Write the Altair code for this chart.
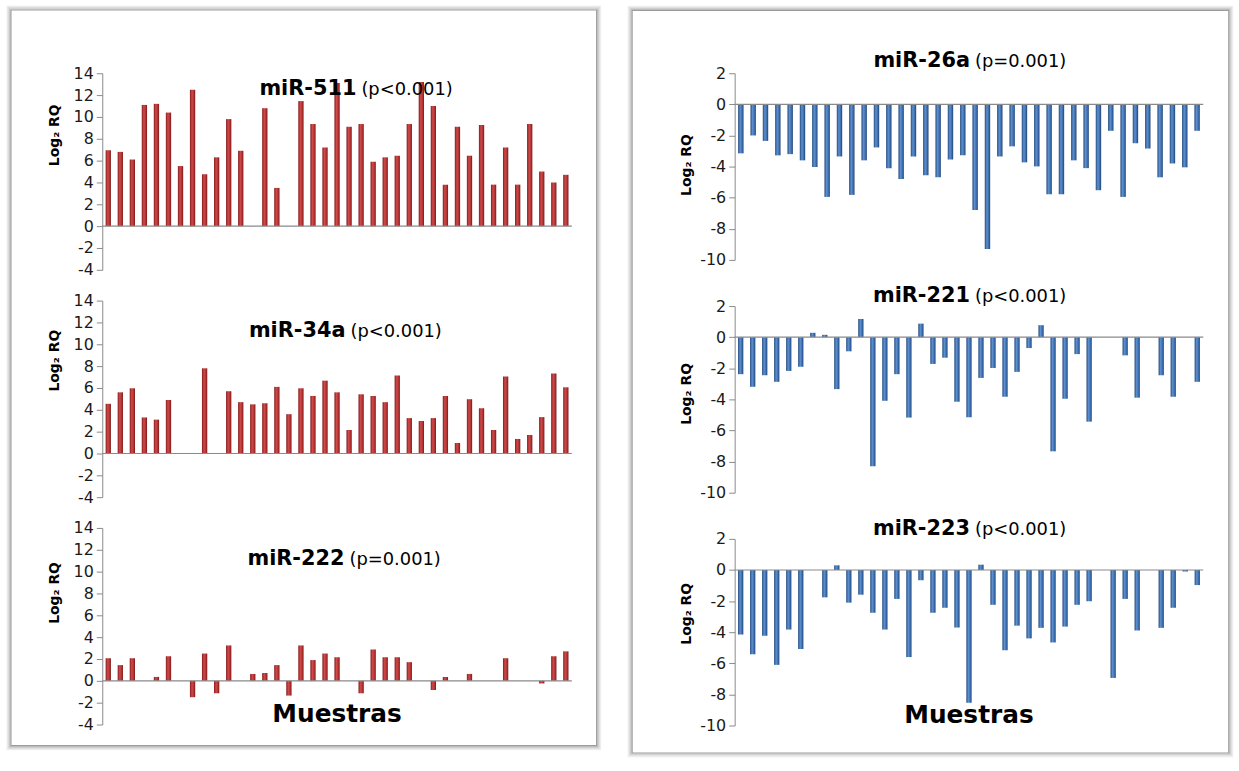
import altair as alt
import pandas as pd

FONT = "DejaVu Sans"

# Sample identifiers (one slot per sample on the x axis)
muestras_39 = list(range(1, 40))
muestras_38 = list(range(1, 39))

# Log2 RQ per sample; None = no value for that sample
mir_511 = [6.95, 6.8, 6.1, 11.1, 11.2, 10.4, 5.5, 12.5, 4.75, 6.3, 9.8, 6.9, None, 10.8,
           3.5, None, 11.45, 9.35, 7.2, 13.1, 9.1, 9.35, 5.9, 6.3, 6.45, 9.35, 13.2, 11.0,
           3.8, 9.1, 6.45, 9.25, 3.8, 7.2, 3.8, 9.35, 5.0, 4.0, 4.7]
mir_34a = [4.55, 5.6, 5.97, 3.3, 3.1, 4.9, None, None, 7.8, None, 5.7, 4.7, 4.5, 4.6, 6.1,
           3.6, 5.97, 5.27, 6.67, 5.6, 2.15, 5.42, 5.27, 4.7, 7.15, 3.24, 2.97, 3.24, 5.27,
           0.97, 4.97, 4.15, 2.15, 7.06, 1.33, 1.7, 3.33, 7.33, 6.06]
mir_222 = [2.07, 1.44, 2.07, None, 0.36, 2.25, None, -1.5, 2.5, -1.14, 3.24, None, 0.63,
           0.72, 1.44, -1.35, 3.24, 1.9, 2.5, 2.16, None, -1.14, 2.88, 2.16, 2.16, 1.71,
           None, -0.84, 0.36, None, 0.63, None, None, 2.07, None, None, -0.24, 2.25, 2.7]
mir_26a = [-3.15, -2.0, -2.35, -3.28, -3.2, -3.6, -4.03, -5.95, -3.35, -5.82, -3.6, -2.77,
           -4.1, -4.8, -3.35, -4.56, -4.69, -3.54, -3.28, -6.8, -9.3, -3.35, -2.7, -3.73,
           -3.99, -5.78, -5.78, -3.6, -4.1, -5.52, -1.7, -5.95, -2.5, -2.84, -4.69, -3.8,
           -4.05, -1.7]
mir_221 = [-2.38, -3.19, -2.45, -2.87, -2.17, -1.91, 0.28, 0.15, -3.34, -0.91, 1.17, -8.3,
           -4.09, -2.38, -5.17, 0.87, -1.72, -1.32, -4.15, -5.15, -2.62, -1.98, -3.83, -2.23,
           -0.7, 0.77, -7.34, -3.96, -1.09, -5.43, None, None, -1.17, -3.89, None, -2.45,
           -3.83, None, -2.87]
mir_223 = [-4.15, -5.42, -4.23, -6.1, -3.83, -5.08, None, -1.76, 0.3, -2.1, -1.59, -2.75,
           -3.83, -1.86, -5.6, -0.66, -2.75, -2.43, -3.7, -8.53, 0.34, -2.24, -5.16, -3.58,
           -4.4, -3.72, -4.66, -3.64, -2.24, -2.01, None, -6.94, -1.86, -3.89, None, -3.72,
           -2.43, -0.1, -0.97]

ticks_izq = [-4, -2, 0, 2, 4, 6, 8, 10, 12, 14]
ticks_der = [-10, -8, -6, -4, -2, 0, 2]

ROJO = alt.Gradient(
    gradient="linear", x1=0, x2=1, y1=0, y2=0,
    stops=[alt.GradientStop(color="#851c1c", offset=0),
           alt.GradientStop(color="#d04a4a", offset=0.4),
           alt.GradientStop(color="#b03030", offset=0.75),
           alt.GradientStop(color="#741818", offset=1)])
AZUL = alt.Gradient(
    gradient="linear", x1=0, x2=1, y1=0, y2=0,
    stops=[alt.GradientStop(color="#264c80", offset=0),
           alt.GradientStop(color="#5e90d0", offset=0.4),
           alt.GradientStop(color="#3a6cac", offset=0.75),
           alt.GradientStop(color="#1f4070", offset=1)])

GRIS = "#8a8a8a"


def marco(x0, x1, y0, y1):
    """Gray picture frame with a soft shadow, drawn around a column of panels."""
    capas = []
    uno = pd.DataFrame({"k": [0]})
    for k, op in [(4, 0.05), (3, 0.09), (2, 0.14), (1, 0.22)]:
        capas.append(alt.Chart(uno).mark_rect(
            fillOpacity=0, stroke="#000000", strokeOpacity=op, strokeWidth=1.2
        ).encode(x=alt.value(x0 - k), x2=alt.value(x1 + k),
                 y=alt.value(y0 - k), y2=alt.value(y1 + k)))
    capas.append(alt.Chart(uno).mark_rect(
        fillOpacity=0, stroke="#9c9c9c", strokeWidth=1.2
    ).encode(x=alt.value(x0), x2=alt.value(x1), y=alt.value(y0), y2=alt.value(y1)))
    return capas


def panel(muestras, valores, nombre, pvalor, relleno, dominio, ticks, ancho, alto,
          tx, ty, eje_ty, con_muestras=False, caja=None):
    df = pd.DataFrame({"muestra": muestras, "log2rq": valores}).dropna()
    eje = alt.Axis(values=ticks, tickCount=len(ticks), title="Log₂ RQ", grid=False,
                   titleFont=FONT, titleFontSize=14, titleFontWeight="bold",
                   titleColor="#000000", titleX=-48, titleY=eje_ty,
                   titleBaseline="middle", titleAlign="center",
                   labelFont=FONT, labelFontSize=16, labelColor="#1a1a1a",
                   labelExpr="'' + datum.value", labelOverlap=False,
                   labelSeparation=0, labelFlush=False,
                   labelPadding=3, tickSize=6, tickColor=GRIS, domainColor=GRIS)
    barras = alt.Chart(df).mark_bar(color=relleno).encode(
        x=alt.X("muestra:O", axis=None,
                scale=alt.Scale(domain=muestras, paddingInner=0.56, paddingOuter=0.28)),
        y=alt.Y("log2rq:Q", axis=eje,
                scale=alt.Scale(domain=dominio, nice=False, zero=False)),
        y2=alt.datum(0),
    )
    capas = [barras]
    if caja is not None:
        capas += marco(*caja)
    capas.append(alt.Chart(pd.DataFrame({"k": [0]})).mark_rule(
        color=GRIS, strokeWidth=1.2).encode(y=alt.datum(0)))
    capas.append(alt.Chart(pd.DataFrame({"t": [nombre]})).mark_text(
        align="right", baseline="alphabetic", font=FONT, fontSize=21,
        fontWeight="bold", color="#000000"
    ).encode(text="t:N", x=alt.value(tx - 2), y=alt.value(ty)))
    capas.append(alt.Chart(pd.DataFrame({"t": [pvalor]})).mark_text(
        align="left", baseline="alphabetic", font=FONT, fontSize=18, color="#000000"
    ).encode(text="t:N", x=alt.value(tx + 3), y=alt.value(ty)))
    if con_muestras:
        capas.append(alt.Chart(pd.DataFrame({"t": ["Muestras"]})).mark_text(
            align="center", baseline="alphabetic", font=FONT, fontSize=25,
            fontWeight="bold", color="#000000"
        ).encode(text="t:N", x=alt.value(ancho / 2), y=alt.value(alto - 3)))
    return alt.layer(*capas).properties(width=ancho, height=alto)


W = 473
izq = alt.vconcat(
    panel(muestras_39, mir_511, "miR-511", "(p<0.001)", ROJO, [-4, 14], ticks_izq,
          W, 198, 258, 21.5, 62, caja=(-92, 498, -63.7, 677.3)),
    panel(muestras_39, mir_34a, "miR-34a", "(p<0.001)", ROJO, [-4, 14], ticks_izq,
          W, 198, 247, 37, 60),
    panel(muestras_39, mir_222, "miR-222", "(p=0.001)", ROJO, [-4, 14], ticks_izq,
          W, 198, 246, 37, 65, con_muestras=True),
    spacing=31, bounds="flush",
)

Wd = 472
der = alt.vconcat(
    panel(muestras_38, mir_26a, "miR-26a", "(p=0.001)", AZUL, [-10, 2], ticks_der,
          Wd, 188, 239, -6.3, 92, caja=(-103.3, 497.7, -63.3, 684.7)),
    panel(muestras_39, mir_221, "miR-221", "(p<0.001)", AZUL, [-10, 2], ticks_der,
          Wd, 188, 239, -3.7, 88),
    panel(muestras_39, mir_223, "miR-223", "(p<0.001)", AZUL, [-10, 2], ticks_der,
          Wd, 188, 239, -4, 75, con_muestras=True),
    spacing=46.5, bounds="flush",
)

chart = alt.hconcat(izq, der, spacing=24).properties(
    padding={"left": 5, "top": 2, "right": 5, "bottom": 5},
    background="white",
).configure(font=FONT).configure_view(stroke="transparent").configure_axis(
    labelOverlap=False, labelSeparation=0
)

chart.save("out.html", embed_options={"renderer": "svg", "actions": False})
